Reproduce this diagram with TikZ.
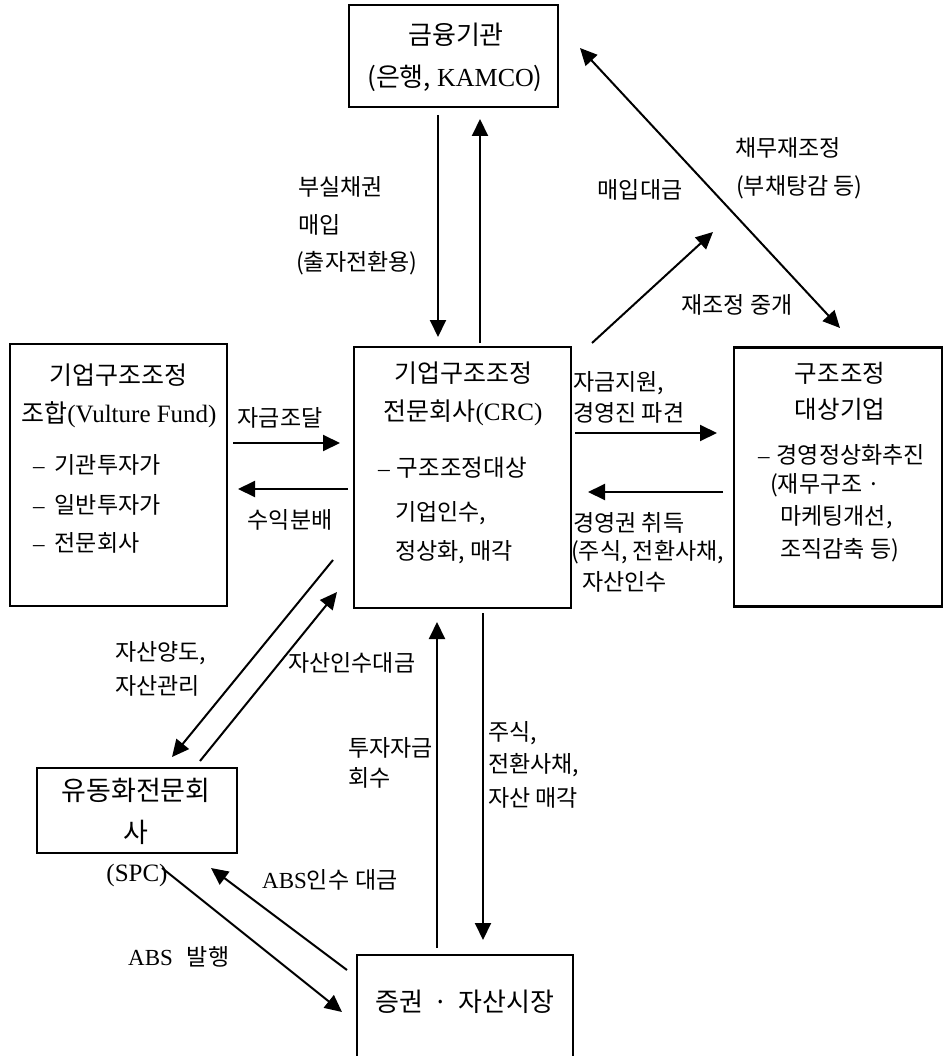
\documentclass[tikz,border=0pt]{standalone}
\usepackage{fontspec}
\setmainfont{Noto Sans CJK KR}
\newfontfamily\lat{Liberation Serif}
\usetikzlibrary{arrows.meta,calc}
\begin{document}
\begin{tikzpicture}[x=1pt,y=-1pt,
  box/.style={draw,line width=2.4pt,inner sep=0pt},
  txt/.style={inner sep=0pt,font=\fontsize{23}{30}\selectfont},
  ttl/.style={inner sep=0pt,font=\fontsize{25}{30}\selectfont},
  arr/.style={line width=2pt,-{Triangle[length=17pt,width=16pt]}},
  dbl/.style={line width=2pt,{Triangle[length=17pt,width=16pt]}-{Triangle[length=17pt,width=16pt]}}]
\clip (0,0) rectangle (945,1056);
\fill[white] (0,0) rectangle (945,1056);
% boxes
\node[box,minimum width=209pt,minimum height=102pt] (fin) at (453.5,56) {};
\node[box,minimum width=217pt,minimum height=262pt] (fund) at (118.5,475) {};
\node[box,minimum width=217pt,minimum height=261pt] (crc) at (462.5,477.5) {};
\node[box,minimum width=208pt,minimum height=259pt] (tgt) at (838,477) {};
\node[box,minimum width=200pt,minimum height=85pt] (spc) at (137,810.5) {};
\node[box,minimum width=216pt,minimum height=150pt] (mkt) at (465,1030) {};
% box texts
\node[ttl,font=\fontsize{26}{30}\selectfont] (fin1) at (456,35) {금융기관};
\node[ttl,font=\fontsize{26}{30}\selectfont] (fin2) at (455,78) {(은행,\hspace{6pt}{\lat KAMCO})};
\node[ttl] (fund1) at (118,375) {기업구조조정};
\node[ttl] (fund2) at (119,415) {조합{\lat (Vulture Fund)}};
\node[txt,anchor=west] (fund3) at (33,465) {{\lat –}\hspace{10pt}기관투자가};
\node[txt,anchor=west] (fund4) at (33,505) {{\lat –}\hspace{10pt}일반투자가};
\node[txt,anchor=west] (fund5) at (33,543) {{\lat –}\hspace{10pt}전문회사};
\node[ttl] (crc1) at (463,373) {기업구조조정};
\node[ttl] (crc2) at (463,413) {전문회사{\lat (CRC)}};
\node[txt,anchor=west,font=\fontsize{23.5}{30}\selectfont] (crc3) at (378,468) {{\lat –}\hspace{7pt}구조조정대상};
\node[txt,anchor=west] (crc4) at (395,513) {기업인수,};
\node[txt,anchor=west] (crc5) at (395,552) {정상화, 매각};
\node[ttl,font=\fontsize{24.5}{30}\selectfont] (tgt1) at (840,373) {구조조정};
\node[ttl,font=\fontsize{24.5}{30}\selectfont] (tgt2) at (840,409) {대상기업};
\node[txt,anchor=west] (tgt3) at (758,455) {{\lat –}\hspace{7pt}경영정상화추진};
\node[txt,anchor=west] (tgt4) at (770,485) {(재무구조 ·};
\node[txt,anchor=west] (tgt5) at (780,517) {마케팅개선,};
\node[txt,anchor=west] (tgt6) at (780,550) {조직감축 등)};
\node[ttl,font=\fontsize{27}{30}\selectfont] (spc1) at (136,790) {유동화전문회};
\node[ttl,font=\fontsize{27}{30}\selectfont] (spc2) at (136,832) {사};
\node[ttl] (spc3) at (137,875) {\lat (SPC)};
\node[ttl,font=\fontsize{26}{30}\selectfont] (mkt1) at (465,1002) {증권\hspace{10pt}·\hspace{10pt}자산시장};
% labels
\node[txt,anchor=west] (l1a) at (298,187) {부실채권};
\node[txt,anchor=west] (l1b) at (298,225) {매입};
\node[txt,anchor=west] (l1c) at (296,263) {(출자전환용)};
\node[txt] (l2) at (640,190) {매입대금};
\node[txt,anchor=west] (l3a) at (735,148) {채무재조정};
\node[txt,anchor=west] (l3b) at (736,187) {(부채탕감 등)};
\node[txt] (l4) at (737,305) {재조정 중개};
\node[txt] (l5) at (280,418) {자금조달};
\node[txt] (l6) at (290,520) {수익분배};
\node[txt,anchor=west] (l7a) at (573,383) {자금지원,};
\node[txt,anchor=west] (l7b) at (573,413) {경영진 파견};
\node[txt,anchor=west] (l8a) at (573,523) {경영권 취득};
\node[txt,anchor=west] (l8b) at (571,552) {(주식, 전환사채,};
\node[txt,anchor=west] (l8c) at (582,582) {자산인수};
\node[txt,anchor=west] (l9a) at (115,653) {자산양도,};
\node[txt,anchor=west] (l9b) at (115,686) {자산관리};
\node[txt,anchor=west] (l10) at (288,663) {자산인수대금};
\node[txt,anchor=west] (l11a) at (348,748) {투자자금};
\node[txt,anchor=west] (l11b) at (348,778) {회수};
\node[txt,anchor=west] (l12a) at (488,733) {주식,};
\node[txt,anchor=west] (l12b) at (488,765) {전환사채,};
\node[txt,anchor=west] (l12c) at (488,798) {자산 매각};
\node[txt,anchor=west] (l13) at (262,880) {{\lat ABS}인수\hspace{6pt}대금};
\node[txt,anchor=west] (l14) at (128,957) {{\lat ABS}\hspace{14pt}발행};
% connector end points
\coordinate (a1s) at (438,115); \coordinate (a1e) at (438,337);
\coordinate (a2s) at (480,343); \coordinate (a2e) at (480,119);
\coordinate (a3s) at (592,343); \coordinate (a3e) at (713,232);
\coordinate (a4s) at (580,48);  \coordinate (a4e) at (840,328);
\coordinate (a5s) at (233,443); \coordinate (a5e) at (340,443);
\coordinate (a6s) at (348,489); \coordinate (a6e) at (238,489);
\coordinate (a7s) at (575,433); \coordinate (a7e) at (717,433);
\coordinate (a8s) at (723,492); \coordinate (a8e) at (588,492);
\coordinate (a9s) at (333,560); \coordinate (a9e) at (172,757);
\coordinate (a10s) at (200,761); \coordinate (a10e) at (337,592);
\coordinate (a11s) at (437,948); \coordinate (a11e) at (437,622);
\coordinate (a12s) at (483,613); \coordinate (a12e) at (483,940);
\coordinate (a13s) at (162,868); \coordinate (a13e) at (342,1012);
\coordinate (a14s) at (347,970); \coordinate (a14e) at (211,868);
\draw[arr] (a1s) -- (a1e);
\draw[arr] (a2s) -- (a2e);
\draw[arr] (a3s) -- (a3e);
\draw[dbl] (a4s) -- (a4e);
\draw[arr] (a5s) -- (a5e);
\draw[arr] (a6s) -- (a6e);
\draw[arr] (a7s) -- (a7e);
\draw[arr] (a8s) -- (a8e);
\draw[arr] (a9s) -- (a9e);
\draw[arr] (a10s) -- (a10e);
\draw[arr] (a11s) -- (a11e);
\draw[arr] (a12s) -- (a12e);
\draw[arr] (a13s) -- (a13e);
\draw[arr] (a14s) -- (a14e);
\end{tikzpicture}
\end{document}
